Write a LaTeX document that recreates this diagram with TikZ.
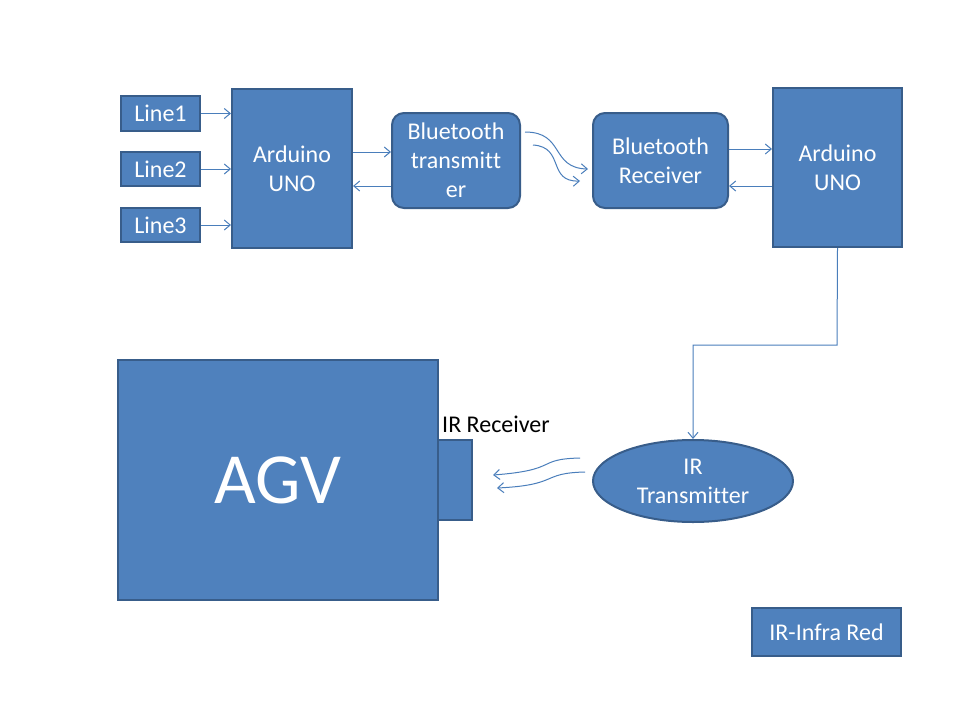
\documentclass[tikz,border=0pt]{standalone}
\usepackage{fontspec}
\setmainfont[Ligatures=CommonOff]{Carlito}
\usetikzlibrary{arrows.meta,shapes.geometric}
\definecolor{boxfill}{HTML}{4F81BD}
\definecolor{boxline}{HTML}{385D8A}
\definecolor{arrline}{HTML}{4A7EBB}
\tikzset{
  blk/.style={draw=boxline, fill=boxfill, line width=2pt, text=white, align=center, inner sep=0pt, font=\fontsize{24}{29}\selectfont},
  rblk/.style={blk, rounded corners=12pt},
  conn/.style={draw=arrline, line width=1pt, -{Straight Barb[length=6pt,width=10pt]}},
}
\begin{document}
\begin{tikzpicture}[x=1pt,y=-1pt]
\useasboundingbox (0,0) rectangle (960,720);
% top-left
\node[blk, minimum width=79pt, minimum height=35pt] (l1) at (160.5,113.5) {Line1};
\node[blk, minimum width=79pt, minimum height=34pt] (l2) at (160.5,169) {Line2};
\node[blk, minimum width=79pt, minimum height=34pt] (l3) at (160.5,225) {Line3};
\node[blk, minimum width=120pt, minimum height=159pt] (a1) at (292,168.5) {Arduino\\UNO};
\node[rblk, minimum width=128pt, minimum height=95pt] (bt) at (456,160.5) {Bluetooth\\transmit\kern0pt t\\er};
\node[rblk, minimum width=135pt, minimum height=95pt] (br) at (660.5,160.5) {Bluetooth\\Receiver};
\node[blk, minimum width=129pt, minimum height=159pt] (a2) at (837.5,167.5) {Arduino\\UNO};
% bottom
\node[blk, minimum width=320pt, minimum height=240pt, font=\fontsize{72}{76}\selectfont] (agv) at (278,480) {AGV};
\node[blk, minimum width=34pt, minimum height=80pt] (irr) at (455,480) {};
\node[anchor=west, font=\fontsize{24}{28}\selectfont, inner sep=0pt] (irrl) at (442,424) {IR Receiver};
\node[blk, ellipse, minimum width=200pt, minimum height=82pt] (irt) at (693,481) {IR\\Transmit\kern0pt ter};
\node[blk, minimum width=149pt, minimum height=48pt] (key) at (826.5,632) {IR-Infra Red};
% connectors
\draw[conn] (l1.east) -- (l1.east -| a1.west);
\draw[conn] (l2.east) -- (l2.east -| a1.west);
\draw[conn] (l3.east) -- (l3.east -| a1.west);
\draw[conn] (a1.east |- 0,152) -- (bt.west |- 0,152);
\draw[conn] (bt.west |- 0,186) -- (a1.east |- 0,186);
\draw[conn] (br.east |- 0,149) -- (a2.west |- 0,149);
\draw[conn] (a2.west |- 0,186) -- (br.east |- 0,186);
\coordinate (w1s) at (525,132);
\coordinate (w1e) at (588,169);
\coordinate (w2s) at (533,145);
\coordinate (w2e) at (580,181);
\draw[conn] (w1s) .. controls (565,132) and (550,168) .. (w1e);
\draw[conn] (w2s) .. controls (565,147) and (547,182) .. (w2e);
\draw[conn] (a2.south) -- (837,345) -- (693,345) -- (irt.north);
\coordinate (i1s) at (580,458);
\coordinate (i1e) at (493,475);
\coordinate (i2s) at (585,472);
\coordinate (i2e) at (497,488);
\draw[conn] (i1s) .. controls (535,459) and (560,470) .. (i1e);
\draw[conn] (i2s) .. controls (540,473) and (560,485) .. (i2e);
\end{tikzpicture}
\end{document}
